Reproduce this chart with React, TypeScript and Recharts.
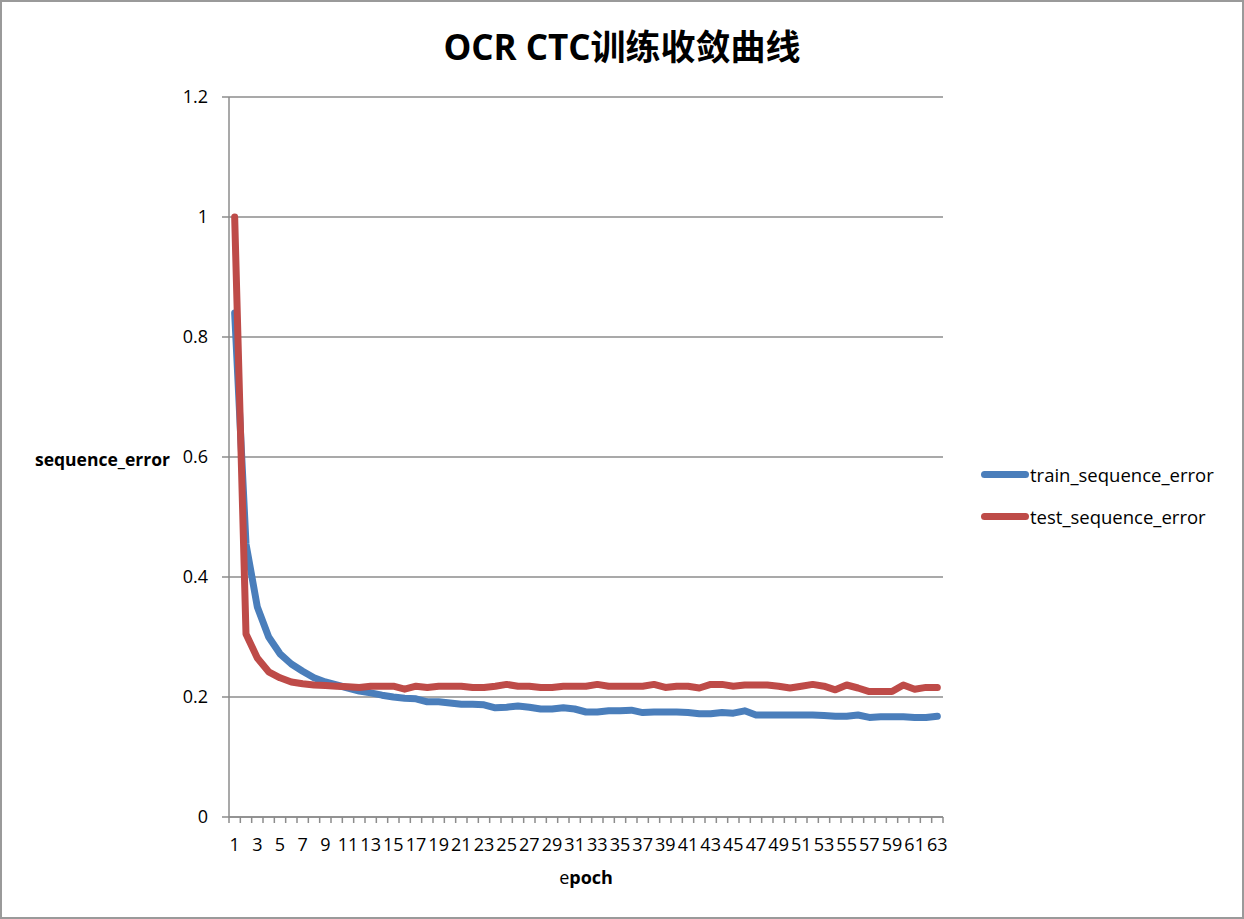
import React from 'react';
import { LineChart, Line, XAxis, YAxis, CartesianGrid } from 'recharts';

const epochs = [
  1, 2, 3, 4, 5, 6, 7, 8, 9, 10, 11, 12, 13, 14, 15, 16, 17, 18, 19, 20, 21,
  22, 23, 24, 25, 26, 27, 28, 29, 30, 31, 32, 33, 34, 35, 36, 37, 38, 39, 40,
  41, 42, 43, 44, 45, 46, 47, 48, 49, 50, 51, 52, 53, 54, 55, 56, 57, 58, 59,
  60, 61, 62, 63,
];

const trainSequenceError = [
  0.84, 0.455, 0.35, 0.3, 0.272, 0.255, 0.243, 0.232, 0.225, 0.22,
  0.215, 0.21, 0.207, 0.203, 0.2, 0.198, 0.197, 0.192, 0.192, 0.19,
  0.188, 0.188, 0.187, 0.182, 0.183, 0.185, 0.183, 0.18, 0.18, 0.182,
  0.18, 0.175, 0.175, 0.177, 0.177, 0.178, 0.174, 0.175, 0.175, 0.175,
  0.174, 0.172, 0.172, 0.174, 0.173, 0.177, 0.17, 0.17, 0.17, 0.17,
  0.17, 0.17, 0.169, 0.168, 0.168, 0.17, 0.166, 0.167, 0.167, 0.167,
  0.166, 0.166, 0.168,
];

const testSequenceError = [
  1.0, 0.305, 0.265, 0.242, 0.232, 0.225, 0.222, 0.22, 0.219, 0.218,
  0.217, 0.216, 0.218, 0.218, 0.218, 0.213, 0.218, 0.216, 0.218, 0.218,
  0.218, 0.216, 0.216, 0.218, 0.221, 0.218, 0.218, 0.216, 0.216, 0.218,
  0.218, 0.218, 0.221, 0.218, 0.218, 0.218, 0.218, 0.221, 0.216, 0.218,
  0.218, 0.215, 0.221, 0.221, 0.218, 0.22, 0.22, 0.22, 0.218, 0.215,
  0.218, 0.221, 0.218, 0.212, 0.22, 0.215, 0.209, 0.209, 0.209, 0.22,
  0.213, 0.216, 0.216,
];

const yTicks = [0, 0.2, 0.4, 0.6, 0.8, 1, 1.2];
const yTickLabels = ['0', '0.2', '0.4', '0.6', '0.8', '1', '1.2'];

const seriesNames = ['train_sequence_error', 'test_sequence_error'];
const seriesColors = ['#4A7EBB', '#BE4B48'];

const titleText = 'OCR CTC训练收敛曲线';
const yAxisTitle = 'sequence_error';

const data = epochs.map((e, i) => ({
  epoch: e,
  train: trainSequenceError[i],
  test: testSequenceError[i],
}));

const W = 1244;
const H = 919;
const MARGIN = { top: 97, right: 301, bottom: 72, left: 169 };
const Y_AXIS_W = 60;
const X_AXIS_H = 30;
const PLOT_W = W - MARGIN.left - Y_AXIS_W - MARGIN.right;
const HALF_BAND = PLOT_W / epochs.length / 2;

const FONT = '"Open Sans", "Noto Sans CJK SC", sans-serif';
const GRID = '#8c8c8c';
const LINE_W = 7;

const XTick = (props: any) => {
  const { x, y, payload } = props;
  return (
    <g>
      <line x1={x - HALF_BAND} y1={y} x2={x - HALF_BAND} y2={y + 6} stroke={GRID} strokeWidth={1.5} />
      <line x1={x + HALF_BAND} y1={y} x2={x + HALF_BAND} y2={y + 6} stroke={GRID} strokeWidth={1.5} />
      <text x={x} y={y + 34} textAnchor="middle" fontSize={18} fontFamily={FONT} fill="#000">
        {payload.value}
      </text>
    </g>
  );
};

const YTick = (props: any) => {
  const { x, y, payload } = props;
  const idx = yTicks.indexOf(payload.value);
  return (
    <text x={x} y={y + 6} textAnchor="end" fontSize={18} fontFamily={FONT} fill="#000">
      {idx >= 0 ? yTickLabels[idx] : String(payload.value)}
    </text>
  );
};

export default function App() {
  return (
    <div style={{ position: 'absolute', left: 0, top: 0, width: W, height: H, background: '#fff', fontFamily: FONT }}>
      <LineChart width={W} height={H} data={data} margin={MARGIN}>
        <CartesianGrid vertical={false} stroke={GRID} strokeWidth={1.5} />
        <XAxis
          dataKey="epoch"
          interval={1}
          height={X_AXIS_H}
          padding={{ left: HALF_BAND, right: HALF_BAND }}
          tickLine={false}
          tickSize={0}
          tickMargin={0}
          axisLine={{ stroke: GRID, strokeWidth: 1.5 }}
          tick={<XTick />}
        />
        <YAxis
          width={Y_AXIS_W}
          domain={[0, 1.2]}
          ticks={yTicks}
          type="number"
          allowDataOverflow
          tickSize={7}
          tickMargin={14}
          tickLine={{ stroke: GRID, strokeWidth: 1.5 }}
          axisLine={{ stroke: GRID, strokeWidth: 1.5 }}
          tick={<YTick />}
        />
        <Line
          type="linear"
          dataKey="train"
          name={seriesNames[0]}
          stroke={seriesColors[0]}
          strokeWidth={LINE_W}
          strokeLinecap="round"
          strokeLinejoin="round"
          dot={false}
          activeDot={false}
          isAnimationActive={false}
        />
        <Line
          type="linear"
          dataKey="test"
          name={seriesNames[1]}
          stroke={seriesColors[1]}
          strokeWidth={LINE_W}
          strokeLinecap="round"
          strokeLinejoin="round"
          dot={false}
          activeDot={false}
          isAnimationActive={false}
        />
      </LineChart>

      <div
        style={{
          position: 'absolute', left: 0, top: 25, width: W, textAlign: 'center',
          fontSize: 35, fontWeight: 700, lineHeight: '44px', color: '#000',
        }}
      >
        {titleText}
      </div>

      <div
        style={{
          position: 'absolute', left: 35, top: 447, fontSize: 17.5, fontWeight: 700,
          lineHeight: '24px', color: '#000', whiteSpace: 'nowrap',
        }}
      >
        {yAxisTitle}
      </div>

      <div
        style={{
          position: 'absolute', left: 229, width: PLOT_W, top: 864, textAlign: 'center',
          fontSize: 18, lineHeight: '26px', color: '#000',
        }}
      >
        <span>e</span>
        <span style={{ fontWeight: 700 }}>poch</span>
      </div>

      {seriesNames.map((name, i) => (
        <div
          key={name}
          style={{
            position: 'absolute', left: 981, top: 460 + i * 42, height: 28,
            display: 'flex', alignItems: 'center', whiteSpace: 'nowrap',
          }}
        >
          <div style={{ width: 48, height: LINE_W, borderRadius: 3.5, background: seriesColors[i] }} />
          <span style={{ fontSize: 18.5, color: '#000', marginLeft: 1 }}>{name}</span>
        </div>
      ))}

      <div
        style={{
          position: 'absolute', left: 0, top: 0, width: W, height: H,
          boxSizing: 'border-box', border: '2px solid #9a9a9a', pointerEvents: 'none',
        }}
      />
    </div>
  );
}
